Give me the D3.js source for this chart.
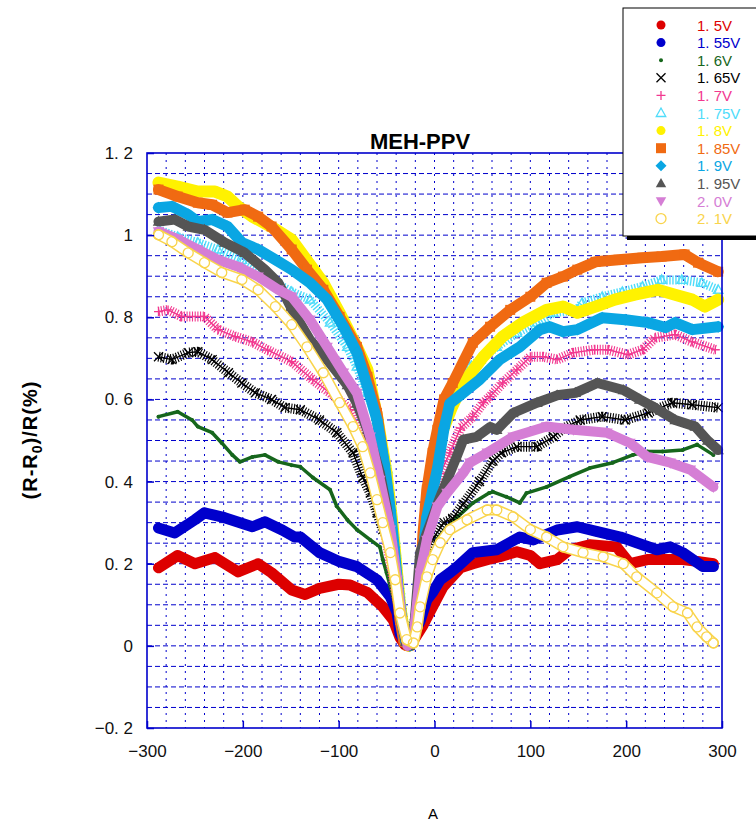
<!DOCTYPE html>
<html lang="ja">
<head>
    <meta charset="UTF-8">
    <title>MEH-PPV</title>
    <script src="https://cdn.jsdelivr.net/npm/d3@7"></script>
    <style>
        body { margin: 0; background: #fff; }
        svg text { font-family: "Liberation Sans Narrow", "Liberation Sans", Arial, sans-serif; }
        .grid-h line { stroke: #0000cc; stroke-width: 1; stroke-dasharray: 5,3; }
        .grid-v line { stroke: #0000cc; stroke-width: 1; stroke-dasharray: 2,5; }
        .axis path.domain { display: none; }
        .axis line { stroke: #0000cc; stroke-width: 1.5; }
        .axis text { font-size: 17px; fill: #111; }
        .frame { fill: none; stroke: #0000cc; stroke-width: 1.6; }
        .title { font-family: "Liberation Sans", Arial, sans-serif !important; font-weight: bold; font-size: 22px; }
        .ylabel { font-family: "Liberation Sans", Arial, sans-serif !important; font-weight: bold; font-size: 20px; letter-spacing: 1px; }
        .xlabel { font-size: 15px; }
        .legend text { font-size: 15px; }
    </style>
</head>
<body>
<div class="chart"></div>
<script>
(function()
{
    "use strict";

    // legend labels and axis ticks
    var labels = ["1. 5V", "1. 55V", "1. 6V", "1. 65V", "1. 7V", "1. 75V", "1. 8V", "1. 85V", "1. 9V", "1. 95V", "2. 0V", "2. 1V"];
    var xTicks = [-300, -200, -100, 0, 100, 200, 300];
    var xTickLabels = ["\u2212300", "\u2212200", "\u2212100", "0", "100", "200", "300"];
    var yTicks = [-0.2, 0, 0.2, 0.4, 0.6, 0.8, 1, 1.2];
    var yTickLabels = ["\u22120. 2", "0", "0. 2", "0. 4", "0. 6", "0. 8", "1", "1. 2"];

    // series, [A, (R-R0)/R]
    var v150 = [[-288,0.19],[-268,0.22],[-250,0.20],[-229,0.215],[-205,0.18],[-184,0.20],[-170,0.178],[-149,0.136],[-135,0.125],[-120,0.14],[-100,0.15],[-88,0.148],[-70,0.13],[-54,0.095],[-43,0.063],[-36,0.02],[-31,0.003],[-26,0.0],[-20,0.02],[-12,0.05],[-2,0.095],[9,0.144],[27,0.19],[40,0.2],[55,0.21],[68,0.217],[86,0.229],[100,0.22],[110,0.2],[128,0.21],[141,0.234],[162,0.246],[190,0.241],[204,0.2],[222,0.21],[238,0.21],[259,0.21],[276,0.205],[291,0.2]];
    var v155 = [[-288,0.287],[-271,0.275],[-250,0.307],[-240,0.324],[-219,0.312],[-190,0.29],[-177,0.302],[-159,0.282],[-146,0.265],[-140,0.265],[-120,0.227],[-99,0.205],[-81,0.193],[-60,0.161],[-46,0.119],[-39,0.08],[-36,0.03],[-30,0.005],[-24,0.02],[-15,0.06],[-8,0.112],[-2,0.13],[6,0.161],[16,0.178],[24,0.193],[40,0.227],[65,0.234],[89,0.265],[103,0.258],[128,0.282],[149,0.29],[170,0.278],[194,0.265],[211,0.251],[232,0.234],[246,0.241],[259,0.227],[280,0.193],[291,0.193]];
    var v160 = [[-288,0.558],[-268,0.57],[-253,0.55],[-247,0.534],[-232,0.519],[-222,0.494],[-211,0.465],[-203,0.448],[-190,0.46],[-177,0.465],[-163,0.448],[-149,0.44],[-140,0.436],[-127,0.41],[-109,0.38],[-102,0.34],[-91,0.307],[-81,0.283],[-67,0.258],[-57,0.241],[-54,0.21],[-50,0.178],[-46,0.144],[-40,0.09],[-34,0.04],[-28,0.005],[-22,0.03],[-12,0.12],[-4,0.2],[2,0.258],[13,0.29],[24,0.314],[40,0.348],[57,0.372],[61,0.375],[75,0.363],[89,0.348],[96,0.372],[117,0.387],[141,0.412],[162,0.433],[186,0.446],[207,0.465],[222,0.473],[238,0.473],[259,0.477],[274,0.49],[291,0.465]];
    var v165 = [[-288,0.704],[-274,0.697],[-257,0.714],[-247,0.716],[-232,0.697],[-215,0.665],[-201,0.64],[-187,0.616],[-170,0.6],[-156,0.58],[-140,0.575],[-120,0.55],[-102,0.519],[-85,0.47],[-75,0.41],[-67,0.372],[-60,0.324],[-54,0.283],[-46,0.251],[-40,0.17],[-34,0.08],[-29,0.01],[-24,0.02],[-16,0.12],[-8,0.22],[-2,0.26],[10,0.3],[19,0.31],[30,0.345],[47,0.4],[61,0.45],[70,0.47],[86,0.485],[107,0.485],[124,0.509],[135,0.53],[152,0.55],[175,0.558],[199,0.55],[223,0.567],[248,0.592],[269,0.587],[296,0.58]];
    var v170 = [[-288,0.814],[-278,0.818],[-264,0.802],[-240,0.802],[-226,0.77],[-208,0.753],[-190,0.74],[-174,0.72],[-149,0.692],[-127,0.648],[-109,0.616],[-88,0.575],[-73,0.5],[-62,0.405],[-52,0.283],[-41,0.136],[-31,0.02],[-26,0.0],[-20,0.05],[-14,0.15],[-8,0.26],[-2,0.34],[6,0.42],[16,0.47],[27,0.53],[40,0.558],[51,0.592],[58,0.607],[71,0.64],[86,0.672],[100,0.704],[113,0.704],[128,0.697],[145,0.714],[167,0.721],[181,0.721],[202,0.709],[217,0.721],[230,0.75],[251,0.758],[269,0.74],[293,0.721]];
    var v175 = [[-288,1.013],[-268,0.996],[-247,0.982],[-226,0.965],[-201,0.94],[-180,0.909],[-159,0.875],[-149,0.862],[-130,0.843],[-109,0.787],[-91,0.728],[-81,0.68],[-70,0.616],[-60,0.55],[-49,0.43],[-41,0.258],[-36,0.136],[-31,0.03],[-26,0.0],[-22,0.03],[-16,0.15],[-10,0.28],[-4,0.4],[4,0.5],[14,0.58],[26,0.64],[37,0.68],[48,0.697],[65,0.728],[86,0.762],[107,0.787],[124,0.811],[149,0.818],[154,0.835],[175,0.85],[196,0.862],[217,0.875],[237,0.891],[258,0.891],[279,0.884],[296,0.867]];
    var v180 = [[-288,1.128],[-268,1.118],[-247,1.106],[-229,1.106],[-216,1.094],[-205,1.07],[-190,1.045],[-170,1.02],[-149,0.989],[-116,0.884],[-99,0.811],[-81,0.728],[-70,0.672],[-60,0.56],[-50,0.42],[-44,0.3],[-40,0.2],[-36,0.1],[-31,0.02],[-27,0.0],[-22,0.02],[-16,0.1],[-12,0.2],[-6,0.33],[0,0.43],[8,0.52],[18,0.58],[30,0.64],[51,0.704],[71,0.753],[92,0.787],[117,0.818],[134,0.826],[149,0.811],[168,0.826],[188,0.843],[209,0.855],[233,0.867],[251,0.855],[269,0.843],[282,0.826],[296,0.843]];
    var v185 = [[-288,1.111],[-268,1.094],[-247,1.079],[-232,1.074],[-216,1.055],[-198,1.062],[-184,1.045],[-170,1.021],[-149,0.965],[-133,0.916],[-116,0.867],[-99,0.801],[-81,0.728],[-70,0.655],[-60,0.567],[-52,0.43],[-46,0.314],[-43,0.234],[-39,0.129],[-36,0.063],[-32,0.01],[-27,0.0],[-22,0.02],[-18,0.08],[-15,0.144],[-12,0.275],[-8,0.38],[-2,0.47],[3,0.526],[10,0.6],[19,0.64],[40,0.738],[58,0.777],[79,0.818],[100,0.85],[117,0.884],[134,0.899],[149,0.916],[168,0.935],[192,0.94],[217,0.945],[237,0.948],[261,0.953],[275,0.933],[296,0.911]];
    var v190 = [[-288,1.067],[-274,1.07],[-257,1.05],[-247,1.033],[-232,1.038],[-216,1.021],[-201,0.982],[-184,0.965],[-166,0.94],[-149,0.916],[-130,0.884],[-112,0.843],[-95,0.777],[-81,0.714],[-70,0.631],[-60,0.55],[-52,0.44],[-46,0.33],[-42,0.24],[-38,0.14],[-34,0.06],[-30,0.01],[-26,0.0],[-22,0.02],[-15,0.15],[-8,0.314],[3,0.43],[10,0.53],[16,0.59],[24,0.605],[47,0.648],[68,0.697],[89,0.728],[110,0.77],[120,0.777],[134,0.765],[149,0.77],[175,0.799],[199,0.794],[223,0.787],[241,0.775],[251,0.787],[269,0.77],[296,0.777]];
    var v195 = [[-288,1.033],[-271,1.038],[-257,1.021],[-240,1.013],[-219,0.982],[-198,0.957],[-177,0.916],[-163,0.884],[-150,0.825],[-130,0.745],[-112,0.697],[-91,0.635],[-81,0.59],[-70,0.526],[-57,0.421],[-50,0.339],[-43,0.227],[-36,0.08],[-30,0.01],[-26,0.0],[-22,0.02],[-15,0.227],[-8,0.275],[6,0.363],[23,0.46],[30,0.502],[44,0.509],[58,0.533],[65,0.526],[82,0.567],[107,0.592],[128,0.61],[147,0.616],[170,0.64],[197,0.623],[214,0.6],[230,0.58],[251,0.55],[272,0.534],[285,0.5],[296,0.477]];
    var v200 = [[-288,1.009],[-268,0.99],[-247,0.965],[-226,0.94],[-205,0.923],[-184,0.899],[-163,0.867],[-149,0.85],[-130,0.794],[-112,0.728],[-95,0.665],[-81,0.616],[-67,0.509],[-57,0.404],[-46,0.283],[-39,0.161],[-33,0.046],[-28,0.0],[-22,0.02],[-15,0.178],[-8,0.258],[3,0.339],[13,0.372],[30,0.421],[37,0.446],[55,0.47],[82,0.509],[117,0.534],[145,0.526],[180,0.519],[204,0.494],[222,0.46],[246,0.446],[267,0.429],[291,0.387]];
    var v210 = [[-288,1.001],[-274,0.984],[-257,0.957],[-240,0.933],[-222,0.909],[-201,0.892],[-184,0.867],[-166,0.826],[-149,0.782],[-133,0.728],[-116,0.665],[-99,0.592],[-85,0.534],[-75,0.485],[-67,0.421],[-60,0.356],[-54,0.3],[-46,0.227],[-41,0.161],[-36,0.08],[-29,0.015],[-22,0.007],[-18,0.046],[-15,0.095],[-8,0.168],[-2,0.21],[6,0.251],[16,0.283],[34,0.307],[55,0.331],[65,0.331],[82,0.314],[100,0.283],[117,0.265],[134,0.241],[155,0.227],[176,0.217],[197,0.2],[211,0.168],[232,0.129],[249,0.095],[264,0.08],[274,0.046],[284,0.022],[291,0.007]];

    var seriesValues = [v150, v155, v160, v165, v170, v175, v180, v185, v190, v195, v200, v210];

    // drawing styles, one per series
    var styles = [
        { color: "#dd0000", marker: "circle",  size: 5,   band: "solid", width: 11 },
        { color: "#0000cc", marker: "circle",  size: 5,   band: "solid", width: 11 },
        { color: "#16661c", marker: "circle",  size: 2,   band: "solid", width: 3.5 },
        { color: "#000000", marker: "x",       size: 4.5, band: "hatch", width: 10 },
        { color: "#f2388f", marker: "plus",    size: 4.5, band: "hatch", width: 10 },
        { color: "#4fdcfa", marker: "triUp",   size: 5,   band: "open",  width: 9 },
        { color: "#fff200", marker: "circle",  size: 5.5, band: "solid", width: 12 },
        { color: "#f06a12", marker: "square",  size: 5,   band: "solid", width: 11 },
        { color: "#0aa6e3", marker: "diamond", size: 6,   band: "solid", width: 11 },
        { color: "#555555", marker: "triUp",   size: 6,   band: "solid", width: 10 },
        { color: "#d57ed5", marker: "triDown", size: 6,   band: "solid", width: 10 },
        { color: "#f9d44c", marker: "ring",    size: 5,   band: "ring",  width: 11 }
    ];

    var W = 756, H = 829;
    var plot = { left: 147, right: 722, top: 153, bottom: 728 };

    var x = d3.scaleLinear().domain([-300, 300]).range([plot.left, plot.right]);
    var y = d3.scaleLinear().domain([-0.2, 1.2]).range([plot.bottom, plot.top]);

    var svg = d3.select(".chart").append("svg")
        .attr("width", W)
        .attr("height", H)
        .attr("viewBox", [0, 0, W, H].join(" "));

    function markerPath(type, s)
    {
        if (type === "circle" || type === "ring")
            return "M" + (-s) + ",0a" + s + "," + s + " 0 1,0 " + (2 * s) + ",0a" + s + "," + s + " 0 1,0 " + (-2 * s) + ",0Z";
        if (type === "square")  return "M" + (-s) + "," + (-s) + "h" + (2 * s) + "v" + (2 * s) + "h" + (-2 * s) + "Z";
        if (type === "diamond") return "M0," + (-s) + "L" + s + ",0L0," + s + "L" + (-s) + ",0Z";
        if (type === "triUp")   return "M0," + (-s) + "L" + (s * 0.95) + "," + (s * 0.7) + "L" + (-s * 0.95) + "," + (s * 0.7) + "Z";
        if (type === "triDown") return "M0," + s + "L" + (s * 0.95) + "," + (-s * 0.7) + "L" + (-s * 0.95) + "," + (-s * 0.7) + "Z";
        if (type === "x")       return "M" + (-s) + "," + (-s) + "L" + s + "," + s + "M" + s + "," + (-s) + "L" + (-s) + "," + s;
        if (type === "plus")    return "M" + (-s) + ",0H" + s + "M0," + (-s) + "V" + s;
        return "";
    }

    function styleMarker(sel, st)
    {
        var stroked = st.marker === "x" || st.marker === "plus" || st.marker === "ring" || st.band === "open";
        sel.attr("d", markerPath(st.marker, st.size))
            .attr("fill", stroked ? "none" : st.color)
            .attr("stroke", stroked ? st.color : "none")
            .attr("stroke-width", stroked ? 1.3 : 0);
    }

    // grid
    var hLines = d3.range(1, 28).map(function(i) { return -0.2 + i * 0.05; });
    var vLines = d3.range(-280, 300, 20);

    svg.append("g").attr("class", "grid-v")
        .selectAll("line").data(vLines).enter().append("line")
        .attr("x1", function(d) { return x(d); })
        .attr("x2", function(d) { return x(d); })
        .attr("y1", plot.top)
        .attr("y2", plot.bottom);

    svg.append("g").attr("class", "grid-h")
        .selectAll("line").data(hLines).enter().append("line")
        .attr("x1", plot.left)
        .attr("x2", plot.right)
        .attr("y1", function(d) { return y(d); })
        .attr("y2", function(d) { return y(d); });

    // series
    var line = d3.line()
        .x(function(d) { return x(d[0]); })
        .y(function(d) { return y(d[1]); });

    var gSeries = svg.append("g").attr("class", "series");

    seriesValues.forEach(function(values, i)
    {
        var st = styles[i];
        var g = gSeries.append("g");

        var band = g.append("path")
            .datum(values)
            .attr("d", line)
            .attr("fill", "none")
            .attr("stroke", st.color)
            .attr("stroke-width", st.width)
            .attr("stroke-linejoin", "round")
            .attr("stroke-linecap", "round");

        if (st.band === "hatch")
        {
            band.attr("stroke-dasharray", "1.1,1.6").attr("stroke-linecap", "butt");
            g.append("path").datum(values).attr("d", line)
                .attr("fill", "none").attr("stroke", st.color).attr("stroke-width", 1.4);
        }
        if (st.band === "open")
        {
            band.attr("stroke-dasharray", "1.4,1.6").attr("stroke-linecap", "butt");
        }
        if (st.band === "ring")
        {
            g.append("path").datum(values).attr("d", line)
                .attr("fill", "none").attr("stroke", "#fff")
                .attr("stroke-width", st.width - 3)
                .attr("stroke-linejoin", "round").attr("stroke-linecap", "round");
        }

        g.selectAll("path.marker").data(values).enter().append("path")
            .attr("class", "marker")
            .attr("transform", function(d) { return "translate(" + x(d[0]) + "," + y(d[1]) + ")"; })
            .call(styleMarker, st);
    });

    // axes
    var yAxis = d3.axisLeft(y)
        .tickValues(yTicks)
        .tickSize(-7)
        .tickPadding(14)
        .tickFormat(function(d, i) { return yTickLabels[i]; });

    var xAxis = d3.axisBottom(x)
        .tickValues(xTicks)
        .tickSize(-7)
        .tickPadding(17)
        .tickFormat(function(d, i) { return xTickLabels[i]; });

    svg.append("g").attr("class", "axis")
        .attr("transform", "translate(" + plot.left + ",0)")
        .call(yAxis);

    svg.append("g").attr("class", "axis")
        .attr("transform", "translate(0," + plot.bottom + ")")
        .call(xAxis);

    svg.append("rect").attr("class", "frame")
        .attr("x", plot.left).attr("y", plot.top)
        .attr("width", plot.right - plot.left)
        .attr("height", plot.bottom - plot.top);

    // titles
    svg.append("text").attr("class", "title")
        .attr("x", 420).attr("y", 149)
        .attr("text-anchor", "middle")
        .text("MEH-PPV");

    var yl = svg.append("text").attr("class", "ylabel")
        .attr("transform", "translate(37,440) rotate(-90)")
        .attr("text-anchor", "middle");
    yl.append("tspan").text("(R-R");
    yl.append("tspan").attr("font-size", "14px").attr("dy", 5).text("0");
    yl.append("tspan").attr("dy", -5).text(")/R(%)");

    svg.append("text").attr("class", "xlabel")
        .attr("x", 433).attr("y", 819)
        .attr("text-anchor", "middle")
        .text("A");

    // legend
    var legend = svg.append("g").attr("class", "legend");

    legend.append("rect")
        .attr("x", 627).attr("y", 12)
        .attr("width", 150).attr("height", 228)
        .attr("fill", "#000");

    legend.append("rect")
        .attr("x", 623).attr("y", 8)
        .attr("width", 150).attr("height", 228)
        .attr("fill", "#fff")
        .attr("stroke", "#000")
        .attr("stroke-width", 1);

    var rows = legend.selectAll("g.row").data(labels).enter().append("g")
        .attr("class", "row")
        .attr("transform", function(d, i) { return "translate(0," + (25 + i * 17.6) + ")"; });

    rows.append("path")
        .attr("transform", "translate(661,0)")
        .each(function(d, i)
        {
            var st = styles[i];
            var s = st.marker === "circle" && st.size > 3 ? 4.5 : st.size;
            d3.select(this).call(styleMarker, { color: st.color, marker: st.marker, size: Math.min(s, 5.5), band: st.band });
        });

    rows.append("text")
        .attr("x", 697)
        .attr("y", 5.5)
        .attr("fill", function(d, i) { return styles[i].color; })
        .text(function(d) { return d; });
})();
</script>
</body>
</html>
